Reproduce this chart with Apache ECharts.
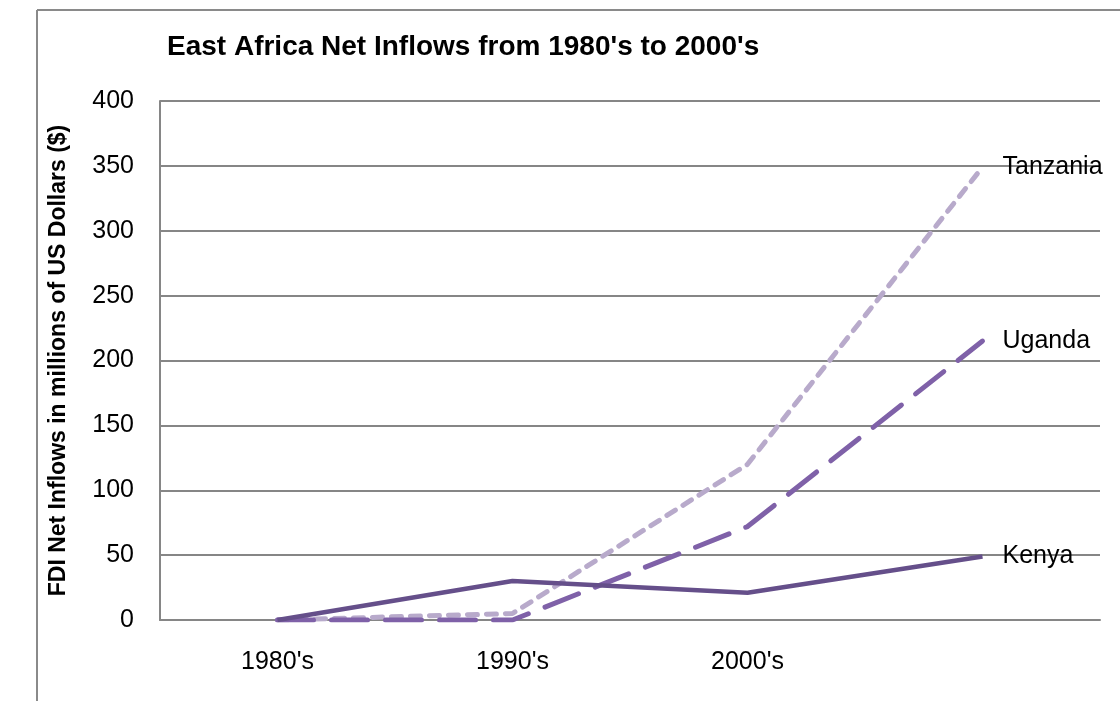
<!DOCTYPE html>
<html>
<head>
<meta charset="utf-8">
<script src="https://cdn.jsdelivr.net/npm/echarts@6/dist/echarts.min.js"></script>
<style>
html,body{margin:0;padding:0;background:#fff;}
#chart{width:1120px;height:701px;}
</style>
</head>
<body>
<div id="chart"></div>
<script>
const categories = ["1980's", "1990's", "2000's", ""];
const kenya = [0, 30, 21, 49];
const uganda = [0, 0, 72, 215];
const tanzania = [0, 5, 120, 349];
const yTicks = { min: 0, max: 400, interval: 50 };

const FONT = "'Liberation Sans Narrow', 'Arial Narrow', 'Liberation Sans', Arial, sans-serif";

const chart = echarts.init(document.getElementById('chart'), null, { renderer: 'canvas' });
chart.setOption({
  animation: false,
  backgroundColor: '#fff',
  title: {
    text: "East Africa Net Inflows from 1980's to 2000's",
    left: 162, top: 28,
    textStyle: { fontFamily: FONT, fontWeight: 'bold', fontSize: 28, color: '#000' }
  },
  graphic: [
    { type: 'line', shape: { x1: 37, y1: 10, x2: 1120, y2: 10 }, style: { stroke: '#8a8a8a', lineWidth: 2 } },
    { type: 'line', shape: { x1: 37, y1: 10, x2: 37, y2: 701 }, style: { stroke: '#8a8a8a', lineWidth: 2 } }
  ],
  grid: { left: 160, right: 20, top: 101, bottom: 81, containLabel: false },
  xAxis: {
    type: 'category',
    data: categories,
    boundaryGap: true,
    axisLine: { show: true, lineStyle: { color: '#868686', width: 2 } },
    axisTick: { show: false },
    axisLabel: { fontFamily: FONT, fontSize: 25, color: '#000', margin: 30 }
  },
  yAxis: {
    type: 'value',
    min: yTicks.min, max: yTicks.max, interval: yTicks.interval,
    name: 'FDI Net Inflows in millions of US Dollars ($)',
    nameLocation: 'middle',
    nameGap: 90,
    nameTextStyle: { fontFamily: FONT, fontWeight: 'bold', fontSize: 23, color: '#000' },
    axisLine: { show: true, lineStyle: { color: '#868686', width: 2 } },
    axisTick: { show: false },
    splitLine: { show: true, lineStyle: { color: '#868686', width: 2 } },
    axisLabel: { fontFamily: FONT, fontSize: 25, color: '#000', margin: 26 }
  },
  series: [
    {
      name: 'Tanzania', type: 'line', data: tanzania, symbol: 'none',
      lineStyle: { color: '#b8aacb', width: 5, type: [10, 9], cap: 'round' },
      endLabel: { show: true, formatter: '{a}', fontFamily: FONT, fontSize: 25, color: '#000', distance: 20 },
      z: 2
    },
    {
      name: 'Uganda', type: 'line', data: uganda, symbol: 'none',
      lineStyle: { color: '#7f61a8', width: 5, type: [36, 18], cap: 'round' },
      endLabel: { show: true, formatter: '{a}', fontFamily: FONT, fontSize: 25, color: '#000', distance: 20 },
      z: 3
    },
    {
      name: 'Kenya', type: 'line', data: kenya, symbol: 'none',
      lineStyle: { color: '#654f8a', width: 4.5, type: 'solid' },
      endLabel: { show: true, formatter: '{a}', fontFamily: FONT, fontSize: 25, color: '#000', distance: 20 },
      z: 4
    }
  ]
});
</script>
</body>
</html>
